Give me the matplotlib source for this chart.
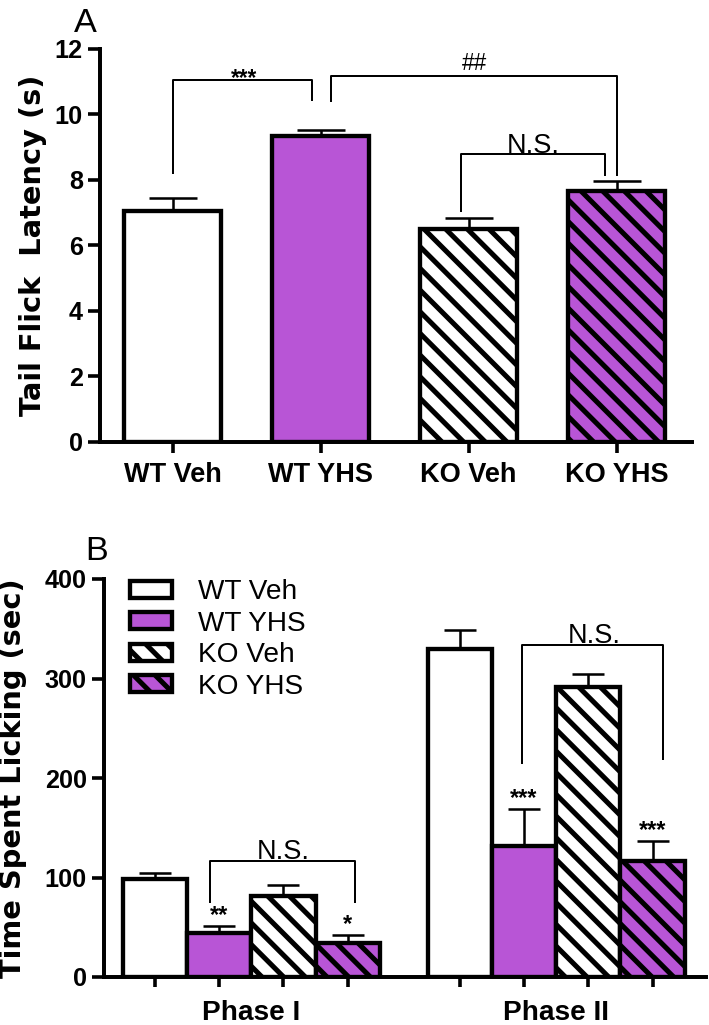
import matplotlib
matplotlib.use("Agg")
import matplotlib.pyplot as plt
import numpy as np

# ---- data ----
groups = ["WT Veh", "WT YHS", "KO Veh", "KO YHS"]
tail_flick = [7.05, 9.33, 6.49, 7.67]
tail_flick_sem = [0.41, 0.20, 0.35, 0.30]

phases = ["Phase I", "Phase II"]
licking_phase1 = [98, 44, 81, 34]
licking_phase1_sem = [7, 7, 11, 8]
licking_phase2 = [330, 132, 291, 117]
licking_phase2_sem = [19, 37, 14, 20]
stars_phase1 = ["", "**", "", "*"]
stars_phase2 = ["", "***", "", "***"]

purple = "#b855d6"
faces = ["white", purple, "white", purple]
hatches = ["", "", "\\\\", "\\\\"]

DPI = 130
plt.rcParams["font.family"] = ["Liberation Sans", "DejaVu Sans"]
plt.rcParams["hatch.linewidth"] = 2.8
plt.rcParams["axes.linewidth"] = 2.2

fig = plt.figure(figsize=(709 / DPI, 1025 / DPI), dpi=DPI)
axA = fig.add_axes([100 / 709, 1 - 442 / 1025, 592 / 709, 393 / 1025])
axB = fig.add_axes([104 / 709, 1 - 977 / 1025, 602 / 709, 398 / 1025])


def bracket(ax, x1, x2, y, yb1, yb2, text, tx, ty, **kw):
    ax.plot([x1, x1, x2, x2], [yb1, y, y, yb2], color="black", lw=1.1, zorder=4)
    ax.text(tx, ty, text, ha="center", va="baseline", **kw)


def style_axes(ax):
    ax.spines["top"].set_visible(False)
    ax.spines["right"].set_visible(False)
    ax.tick_params(axis="both", which="major", width=2, color="black")


# ---- panel A ----
x = np.arange(len(groups))
bars = axA.bar(x, tail_flick, width=0.66, color=faces, edgecolor="black",
               linewidth=2.4, zorder=3)
for b, h in zip(bars, hatches):
    b.set_hatch(h)
axA.errorbar(x, tail_flick, yerr=[np.zeros(len(x)), tail_flick_sem], fmt="none",
             ecolor="black", elinewidth=1.4, capsize=13.5, capthick=1.4, zorder=2)

axA.set_xlim(-0.49, 3.51)
axA.set_ylim(0, 12)
axA.set_xticks(x, groups, fontweight="bold", fontsize=15)
yt = np.arange(0, 13, 2)
axA.set_yticks(yt, [str(v) for v in yt], fontweight="bold", fontsize=14)
style_axes(axA)
axA.tick_params(axis="x", length=6, pad=5)
axA.tick_params(axis="y", length=6.5, pad=3)
axA.set_ylabel("Tail Flick  Latency (s)", fontweight="bold", fontsize=16,
               family="DejaVu Sans")
axA.yaxis.set_label_coords(-0.09, 0.5)

bracket(axA, 0, 0.945, 11.05, 8.22, 10.43, "***", 0.48, 10.9,
        fontweight="bold", fontsize=12.5)
bracket(axA, 1.07, 3.0, 11.18, 10.4, 8.15, "##", 2.04, 11.36, fontsize=12.5)
bracket(axA, 1.95, 2.92, 8.78, 7.05, 8.15, "N.S.", 2.44, 8.83, fontsize=15)

# ---- panel B ----
gap = 0.74
pos1 = np.arange(4)
pos2 = pos1 + 4 + gap
for i, g in enumerate(groups):
    axB.bar([pos1[i], pos2[i]], [licking_phase1[i], licking_phase2[i]],
            width=1.0, color=faces[i], edgecolor="black", linewidth=2.4,
            hatch=hatches[i], label=g, zorder=3)
axB.errorbar(np.concatenate([pos1, pos2]), licking_phase1 + licking_phase2,
             yerr=[np.zeros(8), licking_phase1_sem + licking_phase2_sem],
             fmt="none", ecolor="black", elinewidth=1.4, capsize=9,
             capthick=1.4, zorder=2)

for p, m, s, t in zip(pos1, licking_phase1, licking_phase1_sem, stars_phase1):
    if t:
        axB.text(p, m + s + 4, t, ha="center", va="baseline",
                 fontweight="bold", fontsize=13)
for p, m, s, t in zip(pos2, licking_phase2, licking_phase2_sem, stars_phase2):
    if t:
        axB.text(p, m + s + 4, t, ha="center", va="baseline",
                 fontweight="bold", fontsize=13)

axB.set_xlim(-0.79, 8.57)
axB.set_ylim(0, 400)
axB.set_xticks(np.concatenate([pos1, pos2]), [""] * 8)
axB.set_xticks([pos1.mean(), pos2.mean()], phases, minor=True,
               fontweight="bold", fontsize=15.5)
yt = np.arange(0, 401, 100)
axB.set_yticks(yt, [str(v) for v in yt], fontweight="bold", fontsize=14)
style_axes(axB)
axB.tick_params(axis="x", which="major", length=5.5)
axB.tick_params(axis="x", which="minor", length=0, pad=13)
axB.tick_params(axis="y", length=6.5, pad=3)
axB.set_ylabel("Time Spent Licking (sec)", fontweight="bold", fontsize=16,
               family="DejaVu Sans")
axB.yaxis.set_label_coords(-0.128, 0.5)

bracket(axB, 0.86, 3.11, 117, 75, 75, "N.S.", 1.99, 119, fontsize=15)
bracket(axB, 5.71, 7.90, 334, 215, 219, "N.S.", 6.84, 336, fontsize=15)

axB.legend(loc="upper left", bbox_to_anchor=(0.043, 1.0), frameon=False,
           fontsize=15.5, borderaxespad=0, borderpad=0, handlelength=1.5,
           handleheight=0.55, labelspacing=0.2, handletextpad=0.95)

fig.text(85 / 709, 1 - 32 / 1025, "A", ha="center", va="baseline", fontsize=19)
fig.text(97 / 709, 1 - 560 / 1025, "B", ha="center", va="baseline", fontsize=19)

fig.savefig("out.png", dpi=DPI)
